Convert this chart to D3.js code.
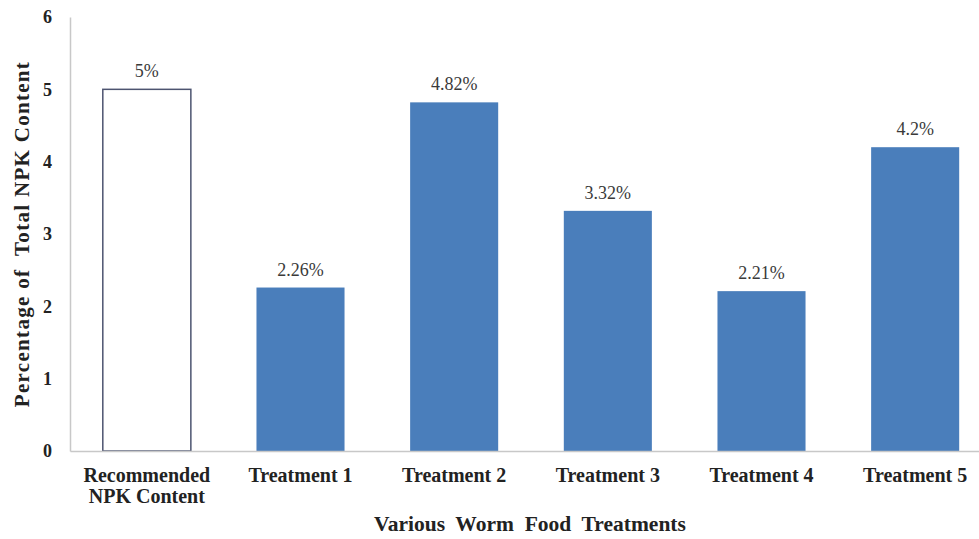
<!DOCTYPE html>
<html>
<head>
<meta charset="utf-8">
<script src="https://cdn.jsdelivr.net/npm/d3@7/dist/d3.min.js"></script>
<style>
  html, body { margin: 0; padding: 0; background: #fff; }
  svg { display: block; }
  text { font-family: "Liberation Serif", "Times New Roman", serif; }
</style>
</head>
<body>
<svg id="chart" width="979" height="539"></svg>
<script>
// NPK content per treatment (percent)
const categories = ["Recommended\nNPK Content", "Treatment 1", "Treatment 2", "Treatment 3", "Treatment 4", "Treatment 5"];
const values = [5, 2.26, 4.82, 3.32, 2.21, 4.2];
const valueLabels = ["5%", "2.26%", "4.82%", "3.32%", "2.21%", "4.2%"];
const yTicks = [0, 1, 2, 3, 4, 5, 6];

const svg = d3.select("#chart");
const margin = { left: 70, top: 17, bottom: 88 };
const plotBottom = 539 - margin.bottom;   // y of zero line
const plotRight = 992;                    // plot area runs past the window edge

const x = d3.scaleBand()
  .domain(categories)
  .range([margin.left, plotRight])
  .paddingInner(0.427)
  .paddingOuter(0.2135);

const y = d3.scaleLinear()
  .domain([0, 6])
  .range([plotBottom, margin.top]);

// bars
svg.append("g").selectAll("rect")
  .data(categories)
  .join("rect")
  .attr("x", d => x(d))
  .attr("y", (d, i) => y(values[i]))
  .attr("width", x.bandwidth())
  .attr("height", (d, i) => y(0) - y(values[i]))
  .attr("fill", (d, i) => i === 0 ? "#ffffff" : "#4a7ebb")
  .attr("stroke", (d, i) => i === 0 ? "#4d5470" : "none")
  .attr("stroke-width", 1.5);

// value labels
svg.append("g").selectAll("text")
  .data(categories)
  .join("text")
  .attr("x", d => x(d) + x.bandwidth() / 2)
  .attr("y", (d, i) => y(values[i]) - 12)
  .attr("text-anchor", "middle")
  .attr("font-size", 18)
  .attr("fill", "#3a3a3a")
  .text((d, i) => valueLabels[i]);

// y axis
const yAxis = svg.append("g")
  .attr("transform", `translate(${margin.left},0)`)
  .call(d3.axisLeft(y).tickValues(yTicks).tickFormat(d3.format("d")).tickSize(0).tickPadding(18));
yAxis.select(".domain").attr("stroke", "#c8c8c8").attr("stroke-width", 1.5);
yAxis.selectAll("text")
  .attr("font-size", 18)
  .attr("font-weight", "bold")
  .attr("fill", "#222")
  .attr("font-family", "Liberation Serif, serif");

// x axis
const xAxis = svg.append("g")
  .attr("transform", `translate(0,${plotBottom})`)
  .call(d3.axisBottom(x).tickSize(0).tickFormat(""));
xAxis.select(".domain").attr("stroke", "#c8c8c8").attr("stroke-width", 1.5);

// category labels (multi-line)
const catLabels = svg.append("g").selectAll("text")
  .data(categories)
  .join("text")
  .attr("x", d => x(d) + x.bandwidth() / 2)
  .attr("y", plotBottom + 31)
  .attr("text-anchor", "middle")
  .attr("font-size", 20)
  .attr("font-weight", "bold")
  .attr("fill", "#222");
catLabels.each(function(d) {
  const lines = d.split("\n");
  const t = d3.select(this);
  lines.forEach((ln, k) => {
    t.append("tspan")
      .attr("x", x(d) + x.bandwidth() / 2)
      .attr("dy", k === 0 ? 0 : 21)
      .text(ln);
  });
});

// axis titles
svg.append("text")
  .attr("x", 530)
  .attr("y", 531)
  .attr("text-anchor", "middle")
  .attr("font-size", 21.5)
  .attr("font-weight", "bold")
  .attr("fill", "#222")
  .style("white-space", "pre")
  .text("Various  Worm  Food  Treatments");

svg.append("text")
  .attr("transform", `translate(29,234) rotate(-90)`)
  .attr("text-anchor", "middle")
  .attr("font-size", 21)
  .attr("letter-spacing", 1.3)
  .attr("font-weight", "bold")
  .attr("fill", "#222")
  .style("white-space", "pre")
  .text("Percentage of  Total NPK Content");
</script>
</body>
</html>
